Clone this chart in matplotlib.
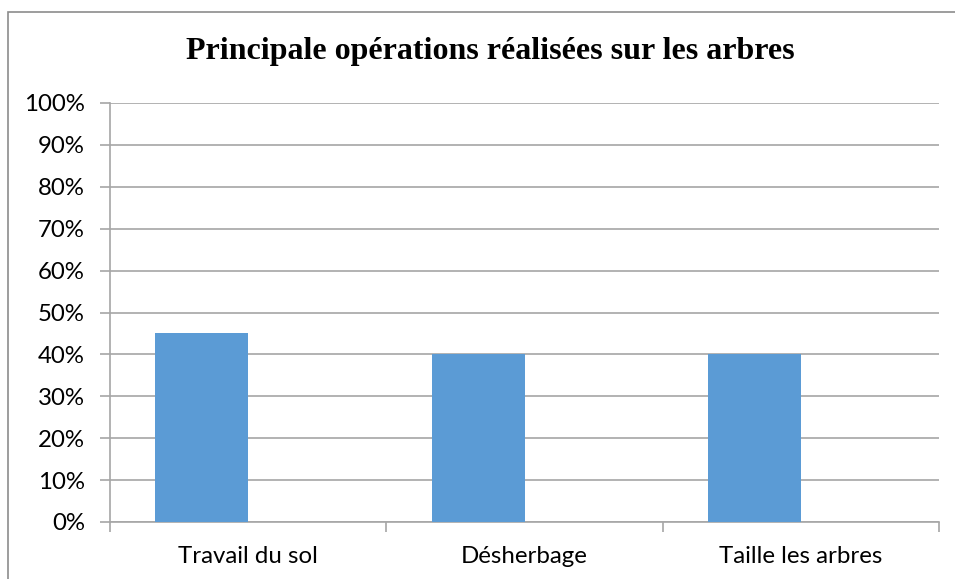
import matplotlib
matplotlib.use("Agg")
import matplotlib.pyplot as plt
from matplotlib.patches import Rectangle
import numpy as np

categories = ["Travail du sol", "Désherbage", "Taille les arbres"]
values = [45, 40, 40]
title = "Principale opérations réalisées sur les arbres"

W, H = 955, 579
fig = plt.figure(figsize=(W / 100, H / 100), dpi=100)

# outer chart frame
fig.patches.append(Rectangle((8 / W, -0.05), 1.2, 1 - 12 / H + 0.05,
                             transform=fig.transFigure, fill=False,
                             edgecolor="#8c8c8c", linewidth=1.2))

ax = fig.add_axes([110 / W, (H - 522) / H, (939 - 110) / W, (522 - 103) / H])

x = np.arange(len(categories))
w = 0.336
ax.bar(x - w, values, width=w, align="edge", color="#5B9BD5", zorder=3)

ax.set_xlim(-0.5, len(categories) - 0.5)
ax.set_ylim(0, 100)
ax.set_yticks(np.arange(0, 101, 10))
ax.set_yticklabels([f"{v}%" for v in range(0, 101, 10)])
ax.yaxis.grid(True, color="#a6a6a6", linewidth=1.2, zorder=0)

ax.set_xticks(x)
ax.set_xticklabels(categories)
ax.set_xticks(np.arange(-0.5, len(categories), 1), minor=True)
ax.tick_params(axis="x", which="major", length=0, pad=17)
ax.tick_params(axis="x", which="minor", length=7, color="#a6a6a6", width=1.2)
ax.tick_params(axis="y", length=7, color="#a6a6a6", width=1.2, pad=11)

for lab in ax.get_xticklabels() + ax.get_yticklabels():
    lab.set_fontfamily("Lato")
    lab.set_fontsize(17.3)
    lab.set_color("black")

for s in ["top", "right"]:
    ax.spines[s].set_visible(False)
for s in ["left", "bottom"]:
    ax.spines[s].set_color("#a6a6a6")
    ax.spines[s].set_linewidth(1.2)

fig.text(490 / W, 1 - 52 / H, title, ha="center", va="center",
         fontfamily="Liberation Serif", fontweight="bold", fontsize=23)

fig.savefig("out.png", dpi=100)
